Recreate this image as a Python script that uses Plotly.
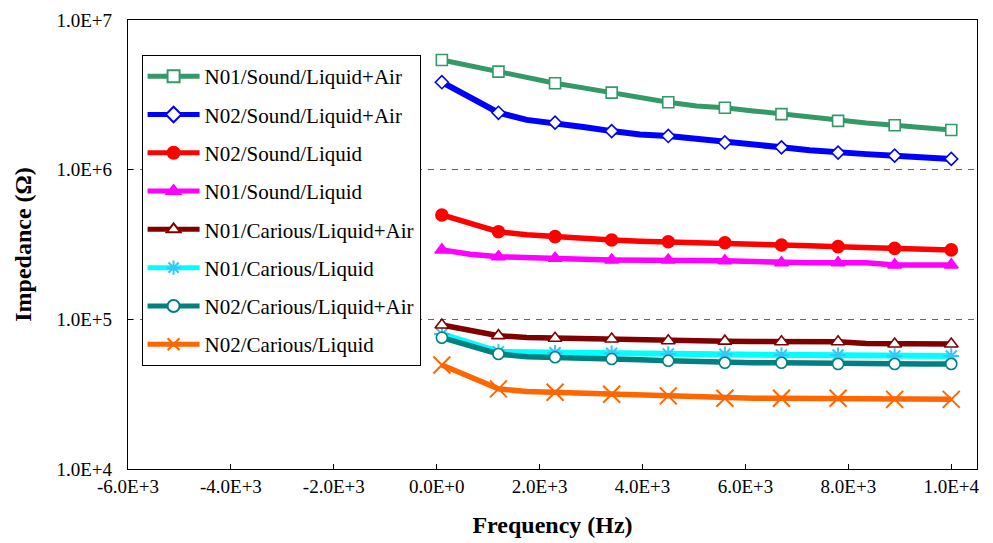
import plotly.graph_objects as go

# Frequency (Hz); markers appear on every other sample
freq = [100, 650, 1200, 1750, 2300, 2850, 3400, 3950, 4500, 5050,
        5600, 6150, 6700, 7250, 7800, 8350, 8900, 9450, 10000]

n01_sound_liq_air = [5.41e6, 4.95e6, 4.52e6, 4.12e6, 3.78e6, 3.52e6, 3.27e6, 3.02e6, 2.82e6, 2.66e6,
                     2.59e6, 2.47e6, 2.35e6, 2.23e6, 2.12e6, 2.05e6, 1.98e6, 1.91e6, 1.84e6]
n02_sound_liq_air = [3.84e6, 3.00e6, 2.40e6, 2.15e6, 2.06e6, 1.93e6, 1.81e6, 1.72e6, 1.68e6, 1.60e6,
                     1.52e6, 1.46e6, 1.41e6, 1.35e6, 1.30e6, 1.27e6, 1.24e6, 1.21e6, 1.18e6]
n02_sound_liq = [4.98e5, 4.35e5, 3.85e5, 3.68e5, 3.57e5, 3.47e5, 3.39e5, 3.33e5, 3.30e5, 3.27e5,
                 3.25e5, 3.19e5, 3.14e5, 3.10e5, 3.06e5, 3.02e5, 2.98e5, 2.94e5, 2.91e5]
n01_sound_liq = [2.91e5, 2.72e5, 2.62e5, 2.57e5, 2.56e5, 2.52e5, 2.49e5, 2.49e5, 2.49e5, 2.48e5,
                 2.46e5, 2.43e5, 2.39e5, 2.39e5, 2.39e5, 2.39e5, 2.31e5, 2.31e5, 2.31e5]
n01_car_liq_air = [9.17e4, 8.40e4, 7.78e4, 7.55e4, 7.47e4, 7.42e4, 7.39e4, 7.35e4, 7.20e4, 7.18e4,
                   7.15e4, 7.12e4, 7.09e4, 7.09e4, 7.09e4, 6.90e4, 6.84e4, 6.84e4, 6.84e4]
n01_car_liq = [7.98e4, 6.90e4, 6.08e4, 6.02e4, 5.98e4, 5.95e4, 5.93e4, 5.90e4, 5.87e4, 5.85e4,
               5.84e4, 5.80e4, 5.78e4, 5.78e4, 5.78e4, 5.72e4, 5.69e4, 5.69e4, 5.69e4]
n02_car_liq_air = [7.54e4, 6.60e4, 5.87e4, 5.62e4, 5.58e4, 5.50e4, 5.43e4, 5.36e4, 5.29e4, 5.20e4,
                   5.13e4, 5.13e4, 5.13e4, 5.10e4, 5.03e4, 5.03e4, 5.03e4, 5.03e4, 5.03e4]
n02_car_liq = [4.95e4, 4.10e4, 3.43e4, 3.30e4, 3.26e4, 3.21e4, 3.16e4, 3.12e4, 3.08e4, 3.02e4,
               2.97e4, 2.97e4, 2.97e4, 2.97e4, 2.97e4, 2.94e4, 2.92e4, 2.92e4, 2.92e4]

x_tickvals = [-6000, -4000, -2000, 0, 2000, 4000, 6000, 8000, 10000]
x_ticktext = ["-6.0E+3", "-4.0E+3", "-2.0E+3", "0.0E+0", "2.0E+3", "4.0E+3", "6.0E+3", "8.0E+3", "1.0E+4"]
y_tickvals = [1e4, 1e5, 1e6, 1e7]
y_ticktext = ["1.0E+4", "1.0E+5", "1.0E+6", "1.0E+7"]

FONT = "Liberation Serif"

# (name, values, line color, symbol, marker fill, marker line color, marker size, line width, legend rank)
series = [
    ("N01/Carious/Liquid", n01_car_liq, "#00ffff", "asterisk-open", "#33c8f5", "#33c8f5", 13, 6, 6),
    ("N01/Sound/Liquid+Air", n01_sound_liq_air, "#339966", "square", "white", "#339966", 11, 5, 1),
    ("N02/Sound/Liquid+Air", n02_sound_liq_air, "#0000ff", "diamond", "white", "#0000ff", 10, 6, 2),
    ("N02/Sound/Liquid", n02_sound_liq, "#ff0000", "circle", "#ff0000", "#ff0000", 12, 5.5, 3),
    ("N01/Sound/Liquid", n01_sound_liq, "#ff00ff", "triangle-up", "#ff00ff", "#ff00ff", 12, 5.5, 4),
    ("N01/Carious/Liquid+Air", n01_car_liq_air, "#800000", "triangle-up", "white", "#800000", 12, 5.5, 5),
    ("N02/Carious/Liquid+Air", n02_car_liq_air, "#008080", "circle", "white", "#008080", 11, 5.5, 7),
    ("N02/Carious/Liquid", n02_car_liq, "#ff6600", "x-thin-open", "#ff6600", "#ff6600", 17, 5.5, 8),
]

fig = go.Figure()
for name, vals, lc, sym, mfill, mline, msize, lw, rank in series:
    sizes = [msize if i % 2 == 0 else 0 for i in range(len(vals))]
    fig.add_trace(go.Scatter(
        x=freq, y=vals, name=name, mode="lines+markers",
        line=dict(color=lc, width=lw),
        marker=dict(symbol=sym, size=sizes, color=mfill, opacity=1,
                    line=dict(color=mline, width=1.6 if "open" not in sym else 2)),
        legendgroup=name, legendrank=rank,
    ))

fig.update_layout(
    width=993, height=543,
    margin=dict(l=128, r=16, t=20, b=74),
    paper_bgcolor="white", plot_bgcolor="white",
    font=dict(family=FONT, color="black", size=19),
    showlegend=True,
    legend=dict(
        x=0.016, y=0.922, xanchor="left", yanchor="top",
        bgcolor="white", bordercolor="black", borderwidth=1,
        font=dict(family=FONT, size=21, color="black"),
        tracegroupgap=8, itemsizing="constant", itemwidth=52,
    ),
    xaxis=dict(
        range=[-6000, 10500], tickvals=x_tickvals, ticktext=x_ticktext,
        showgrid=False, zeroline=False, automargin=False,
        showline=True, linecolor="black", linewidth=1.3, mirror=True,
        ticks="inside", ticklen=5, tickcolor="black",
        ticklabelstandoff=0,
        tickfont=dict(family=FONT, size=19, color="black"),
        title=dict(text="<b>Frequency (Hz)</b>", standoff=20,
                   font=dict(family=FONT, size=24, color="black")),
    ),
    yaxis=dict(
        type="log", range=[4, 7], tickvals=y_tickvals, ticktext=y_ticktext,
        showgrid=True, gridcolor="#666666", griddash="6px,6px", gridwidth=1,
        zeroline=False, automargin=False,
        showline=True, linecolor="black", linewidth=1.3, mirror=True,
        ticks="inside", ticklen=5, tickcolor="black",
        ticklabelstandoff=11,
        tickfont=dict(family=FONT, size=19, color="black"),
        title=dict(text="<b>Impedance (Ω)</b>", standoff=18,
                   font=dict(family=FONT, size=24, color="black")),
    ),
)

fig.write_html("out.html")
